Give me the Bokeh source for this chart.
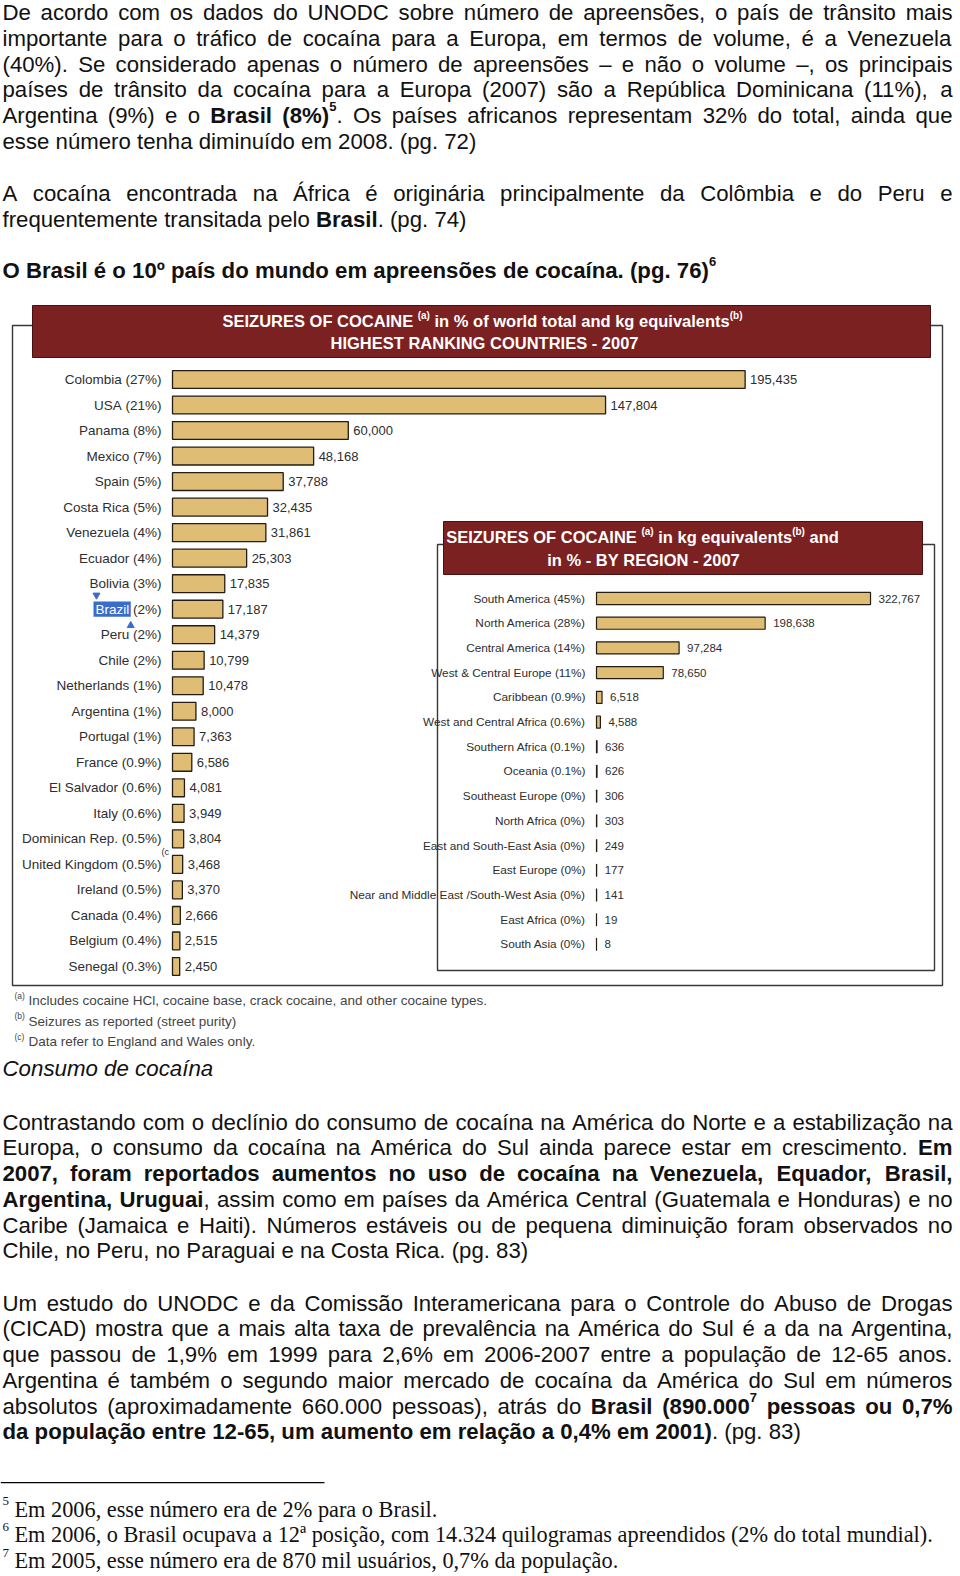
import re
import unicodedata
from bokeh.plotting import figure
from bokeh.models import ColumnDataSource, Range1d, BoxAnnotation
from bokeh.core.properties import value, field
from bokeh.embed import file_html
from bokeh.resources import INLINE

# ---------------- chart data ----------------
countries = ["Colombia", "USA", "Panama", "Mexico", "Spain", "Costa Rica", "Venezuela", "Ecuador",
             "Bolivia", "Brazil", "Peru", "Chile", "Netherlands", "Argentina", "Portugal", "France",
             "El Salvador", "Italy", "Dominican Rep.", "United Kingdom", "Ireland", "Canada",
             "Belgium", "Senegal"]
country_pct = ["27%", "21%", "8%", "7%", "5%", "5%", "4%", "4%", "3%", "2%", "2%", "2%", "1%", "1%",
               "1%", "0.9%", "0.6%", "0.6%", "0.5%", "0.5%", "0.5%", "0.4%", "0.4%", "0.3%"]
country_kg = [195435, 147804, 60000, 48168, 37788, 32435, 31861, 25303, 17835, 17187, 14379, 10799,
              10478, 8000, 7363, 6586, 4081, 3949, 3804, 3468, 3370, 2666, 2515, 2450]
highlight_country = "Brazil"
note_c_country = "United Kingdom"

regions = ["South America", "North America", "Central America", "West & Central Europe", "Caribbean",
           "West and Central Africa", "Southern Africa", "Oceania", "Southeast Europe", "North Africa",
           "East and South-East Asia", "East Europe", "Near and Middle East /South-West Asia",
           "East Africa", "South Asia"]
region_pct = ["45%", "28%", "14%", "11%", "0.9%", "0.6%", "0.1%", "0.1%", "0%", "0%", "0%", "0%",
              "0%", "0%", "0%"]
region_kg = [322767, 198638, 97284, 78650, 6518, 4588, 636, 626, 306, 303, 249, 177, 141, 19, 8]

title1_l1 = [("T", "SEIZURES OF COCAINE "), ("t", "(a)"), ("T", " in % of world total and kg equivalents"), ("t", "(b)")]
title1_l2 = [("T", "HIGHEST RANKING COUNTRIES - 2007")]
title2_l1 = [("T", "SEIZURES OF COCAINE "), ("t", "(a)"), ("T", " in kg equivalents"), ("t", "(b)"), ("T", " and")]
title2_l2 = [("T", "in % - BY REGION - 2007")]
chart_notes = [("(a)", "Includes cocaine HCl, cocaine base, crack cocaine, and other cocaine types."),
               ("(b)", "Seizures as reported (street purity)"),
               ("(c)", " Data refer to England and Wales only.")]

# ---------------- page text ----------------
para1 = [
    "De acordo com os dados do UNODC sobre número de apreensões, o país de trânsito mais",
    "importante para o tráfico de cocaína para a Europa, em termos de volume, é a Venezuela",
    "(40%). Se considerado apenas o número de apreensões – e não o volume –, os principais",
    "países de trânsito da cocaína para a Europa (2007) são a República Dominicana (11%), a",
    [("n", "Argentina (9%) e o "), ("b", "Brasil (8%)"), ("sb", "5"),
     ("n", ". Os países africanos representam 32% do total, ainda que")],
    "esse número tenha diminuído em 2008. (pg. 72)",
]
para2 = [
    "A cocaína encontrada na África é originária principalmente da Colômbia e do Peru e",
    [("n", "frequentemente transitada pelo "), ("b", "Brasil"), ("n", ". (pg. 74)")],
]
headline = [[("b", "O Brasil é o 10º país do mundo em apreensões de cocaína. (pg. 76)"), ("sb", "6")]]
subtitle = "Consumo de cocaína"
para3 = [
    "Contrastando com o declínio do consumo de cocaína na América do Norte e a estabilização na",
    [("n", "Europa, o consumo da cocaína na América do Sul ainda parece estar em crescimento. "), ("b", "Em")],
    [("b", "2007, foram reportados aumentos no uso de cocaína na Venezuela, Equador, Brasil,")],
    [("b", "Argentina, Uruguai"), ("n", ", assim como em países da América Central (Guatemala e Honduras) e no")],
    "Caribe (Jamaica e Haiti). Números estáveis ou de pequena diminuição foram observados no",
    "Chile, no Peru, no Paraguai e na Costa Rica. (pg. 83)",
]
para4 = [
    "Um estudo do UNODC e da Comissão Interamericana para o Controle do Abuso de Drogas",
    "(CICAD) mostra que a mais alta taxa de prevalência na América do Sul é a da na Argentina,",
    "que passou de 1,9% em 1999 para 2,6% em 2006-2007 entre a população de 12-65 anos.",
    "Argentina é também o segundo maior mercado de cocaína da América do Sul em números",
    [("n", "absolutos (aproximadamente 660.000 pessoas), atrás do "), ("b", "Brasil (890.000"), ("sb", "7"),
     ("b", " pessoas ou 0,7%")],
    [("b", "da população entre 12-65, um aumento em relação a 0,4% em 2001)"), ("n", ". (pg. 83)")],
]
footnotes = [("5", "Em 2006, esse número era de 2% para o Brasil."),
             ("6", "Em 2006, o Brasil ocupava a 12ª posição, com 14.324 quilogramas apreendidos (2% do total mundial)."),
             ("7", "Em 2005, esse número era de 870 mil usuários, 0,7% da população.")]

# ---------------- geometry / style ----------------
W, H = 958, 1574
X0, X1 = 0.0, float(W)
Y0, Y1 = 0.0, float(H)
SX = W / (X1 - X0)
SY = H / (Y1 - Y0)
LEFT, RIGHT = 2.0, 952.0

SANS = "Liberation Sans"
SERIF = "Liberation Serif"
TXT = "#111111"
LAB = "#2e2e2e"
TAN = "#DFBD74"
EDGE = "#231d15"
BANNER = "#7B2121"
BLUE = "#3A6CCB"

REG = dict(zip("ABCDEFGHIJKLMNOPQRSTUVWXYZ",
               [667, 667, 722, 722, 667, 611, 778, 722, 278, 500, 667, 556, 833, 722, 778, 667, 778, 722,
                667, 611, 722, 667, 944, 667, 667, 611]))
REG.update(zip("abcdefghijklmnopqrstuvwxyz",
               [556, 556, 500, 556, 556, 278, 556, 556, 222, 222, 500, 222, 833, 556, 556, 556, 556, 333,
                500, 278, 556, 500, 722, 500, 500, 500]))
REG.update({c: 556 for c in "0123456789"})
REG.update({" ": 278, "!": 278, "%": 889, "(": 333, ")": 333, ",": 278, "-": 333, ".": 278, "/": 278,
            ":": 278, ";": 278, "?": 556, "º": 365, "ª": 370, "–": 556, "&": 667, "í": 278, "Í": 278})
BLD = dict(zip("ABCDEFGHIJKLMNOPQRSTUVWXYZ",
               [722, 722, 722, 722, 667, 611, 778, 722, 278, 556, 722, 611, 833, 722, 778, 667, 778, 722,
                667, 611, 722, 667, 944, 667, 667, 611]))
BLD.update(zip("abcdefghijklmnopqrstuvwxyz",
               [556, 611, 556, 611, 556, 333, 611, 611, 278, 278, 556, 278, 889, 611, 611, 611, 611, 389,
                556, 333, 611, 556, 778, 556, 556, 500]))
BLD.update({c: 556 for c in "0123456789"})
BLD.update({" ": 278, "!": 333, "%": 889, "(": 333, ")": 333, ",": 278, "-": 333, ".": 278, "/": 278,
            ":": 333, ";": 333, "?": 611, "º": 365, "ª": 370, "–": 556, "&": 722})


def tw(s, bold, size):
    t = BLD if bold else REG
    tot = 0
    for ch in s:
        if ch in t:
            tot += t[ch]
        else:
            tot += t.get(unicodedata.normalize("NFD", ch)[0], 556)
    return tot * size / 1000.0


# style: font, font_style, size px, raise px (relative to line middle), bold
ST = {
    "n": (SANS, "normal", 22.2, 0, False),
    "b": (SANS, "bold", 22.2, 0, True),
    "s": (SANS, "normal", 13.0, -9, False),
    "sb": (SANS, "bold", 13.0, -9, True),
    "T": (SANS, "bold", 16.5, 0, True),
    "t": (SANS, "bold", 10.0, -6, True),
}

items = dict(x=[], y=[], text=[], font=[], style=[], size=[], color=[])


def add(x, y, t, font, style, size, color):
    items["x"].append(x)
    items["y"].append(y)
    items["text"].append(t)
    items["font"].append(font)
    items["style"].append(style)
    items["size"].append(f"{size}px")
    items["color"].append(color)


def layout_line(segs, y, x_left=LEFT, center=None, justify=False, width_px=(RIGHT - LEFT) * SX, color=TXT):
    toks = []
    for st, txt in segs:
        for part in re.findall(r"\s+|\S+", txt):
            toks.append((st, part))

    def w(tok):
        f = ST[tok[0]]
        return tw(tok[1], f[4], f[2])

    nat = sum(w(t) for t in toks)
    nsp = sum(1 for t in toks if t[1].isspace())
    extra = (width_px - nat) / nsp if (justify and nsp) else 0.0
    start = center - nat / SX / 2 if center is not None else x_left
    cum = 0.0
    for tok in toks:
        if tok[1].isspace():
            cum += w(tok) + extra
            continue
        f = ST[tok[0]]
        add(start + cum / SX, y + f[3] / SY, tok[1], f[0], f[1], f[2], color)
        cum += w(tok)


LH = 25.73


def paragraph(lines, y0, lh=LH, justify=True):
    for k, ln in enumerate(lines):
        segs = [("n", ln)] if isinstance(ln, str) else ln
        layout_line(segs, y0 + k * lh, justify=justify and k < len(lines) - 1)


# y values are line middles
paragraph(para1, 12.1)
paragraph(para2, 192.8)
paragraph(headline, 270.3, justify=False)
add(LEFT, 1068.3, subtitle, SANS, "italic", 22.3, TXT)
paragraph(para3, 1121.6)
paragraph(para4, 1302.6)
for k, (num, txt) in enumerate(footnotes):
    ym = 1508.7 + k * LH
    add(LEFT, ym - 8 / SY, num, SERIF, "normal", 13, TXT)
    add(14.0, ym, txt, SERIF, "normal", 22.3, TXT)

# chart titles and notes
layout_line(title1_l1, 320.5, center=482.0, color="white")
layout_line(title1_l2, 342.8, center=484.0, color="white")
layout_line(title2_l1, 536.6, center=642.0, color="white")
layout_line(title2_l2, 559.6, center=643.0, color="white")
for k, (mark, txt) in enumerate(chart_notes):
    ym = 1000.0 + k * 20.5
    add(14.0, ym - 5 / SY, mark, SANS, "normal", 8.5, "#444444")
    add(28.0, ym, txt, SANS, "normal", 13.5, "#444444")

# ---------------- figure ----------------
p = figure(width=W, height=H, x_range=Range1d(X0, X1), y_range=Range1d(Y1, Y0), title=None,
           x_axis_type=None, y_axis_type=None, output_backend="svg", toolbar_location=None,
           min_border=0, outline_line_color=None, background_fill_color="white",
           border_fill_color="white")

# country scale: kg -> page x ; row index -> page y
C_X0, C_SC = 172.0, 0.00293
C_Y0, C_DY = 379.0, 25.52
R_X0, R_SC = 596.0, 0.000849
R_Y0, R_DY = 598.0, 24.71
p.extra_x_ranges = {"ckg": Range1d((X0 - C_X0) / C_SC, (X1 - C_X0) / C_SC),
                    "rkg": Range1d((X0 - R_X0) / R_SC, (X1 - R_X0) / R_SC)}
p.extra_y_ranges = {"cy": Range1d((Y1 - C_Y0) / C_DY, (Y0 - C_Y0) / C_DY),
                    "ry": Range1d((Y1 - R_Y0) / R_DY, (Y0 - R_Y0) / R_DY)}


def box(l, r, t, b, fill=None, line="#383838", lw=1.4):
    p.add_layout(BoxAnnotation(left=l, right=r, top=t, bottom=b, fill_color=fill,
                               fill_alpha=1.0 if fill else 0.0, line_color=line,
                               line_alpha=1.0 if line else 0.0, line_width=lw, level="underlay"))


box(12, 942, 325, 985)
box(32, 930, 305, 357, fill=BANNER, line="#4a1010", lw=1)
box(437, 934, 544, 970)
box(443, 922, 521, 574, fill=BANNER, line="#4a1010", lw=1)
box(0, 324, 1481.6, 1482.8, fill="black", line=None)

# country chart
LBL_R = 161.0
csz = 13.5
name_x, ncol = [], []
for c, pc in zip(countries, country_pct):
    name_x.append(LBL_R - tw(f" ({pc})", False, csz) / SX)
    ncol.append("white" if c == highlight_country else LAB)
csrc = ColumnDataSource(dict(idx=list(range(len(countries))), kg=country_kg,
                             val=[f"{v:,}" for v in country_kg], name=countries,
                             pct=[f"({v})" for v in country_pct], name_x=name_x, ncol=ncol))
hi = countries.index(highlight_country)
hx = name_x[hi]
hw = tw(highlight_country, False, csz) / SX
p.add_layout(BoxAnnotation(left=hx - hw - 2, right=hx + 1.5,
                           top=hi - 0.3, bottom=hi + 0.3, y_range_name="cy", fill_color=BLUE,
                           fill_alpha=1, line_alpha=0, level="underlay"))
p.scatter(x=[hx - hw + 1], y=[hi - 0.55], marker="inverted_triangle",
          size=7, color=BLUE, y_range_name="cy")
p.scatter(x=[hx + 1.5], y=[hi + 0.64], marker="triangle", size=7, color=BLUE, y_range_name="cy")

p.hbar(y="idx", left=0, right="kg", height=0.70, source=csrc, x_range_name="ckg", y_range_name="cy",
       fill_color=TAN, line_color=EDGE, line_width=1.3)
p.text(x="kg", y="idx", text="val", source=csrc, x_range_name="ckg", y_range_name="cy", x_offset=5,
       text_align="left", text_baseline="middle", text_font=value(SANS), text_font_size="13px",
       text_color=LAB)
p.text(x="name_x", y="idx", text="name", source=csrc, y_range_name="cy", text_align="right",
       text_baseline="middle", text_font=value(SANS), text_font_size=f"{csz}px", text_color=field("ncol"))
p.text(x=LBL_R, y="idx", text="pct", source=csrc, y_range_name="cy", text_align="right",
       text_baseline="middle", text_font=value(SANS), text_font_size=f"{csz}px", text_color=LAB)
ci = countries.index(note_c_country)
p.text(x=[LBL_R], y=[ci - 0.47], text=["(c"], y_range_name="cy", text_align="left",
       text_baseline="middle", text_font=value(SANS), text_font_size="9px", text_color=LAB)

# region chart
rsrc = ColumnDataSource(dict(idx=list(range(len(regions))), kg=region_kg,
                             val=[f"{v:,}" for v in region_kg],
                             label=[f"{r} ({v})" for r, v in zip(regions, region_pct)]))
p.hbar(y="idx", left=0, right="kg", height=0.49, source=rsrc, x_range_name="rkg", y_range_name="ry",
       fill_color=TAN, line_color=EDGE, line_width=1.2)
p.text(x="kg", y="idx", text="val", source=rsrc, x_range_name="rkg", y_range_name="ry", x_offset=8,
       text_align="left", text_baseline="middle", text_font=value(SANS), text_font_size="11.5px",
       text_color=LAB)
p.text(x=585, y="idx", text="label", source=rsrc, y_range_name="ry", text_align="right",
       text_baseline="middle", text_font=value(SANS), text_font_size="11.8px", text_color=LAB)

# page text
p.text(x="x", y="y", text="text", source=ColumnDataSource(items), text_font=field("font"),
       text_font_style=field("style"), text_font_size=field("size"), text_color=field("color"),
       text_align="left", text_baseline="middle")

open("out.html", "w").write(file_html(p, INLINE))
